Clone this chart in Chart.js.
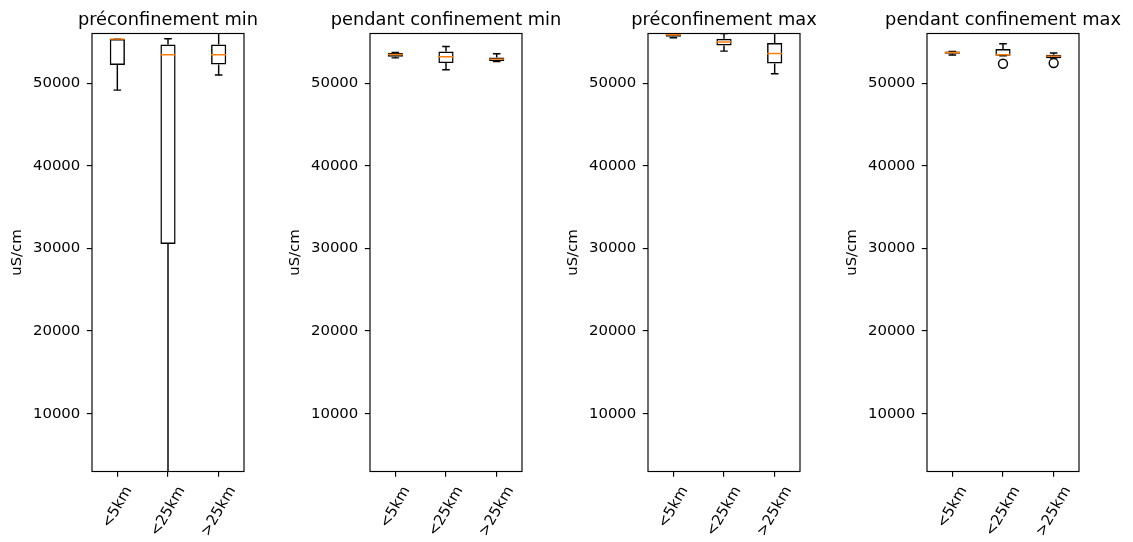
<!DOCTYPE html>
<html>
<head>
<meta charset="utf-8">
<script src="https://cdn.jsdelivr.net/npm/chart.js@4/dist/chart.umd.min.js"></script>
<style>
  html, body { margin: 0; padding: 0; background: #fff; overflow: hidden; }
  #wrap { position: relative; width: 1133px; height: 542px; background: #fff; }
  .panel { position: absolute; top: 0; width: 297px; height: 542px; }
</style>
</head>
<body>
<div id="wrap">
  <div class="panel" style="left:0px"><canvas id="c0" width="297" height="542"></canvas></div>
  <div class="panel" style="left:278px"><canvas id="c1" width="297" height="542"></canvas></div>
  <div class="panel" style="left:556px"><canvas id="c2" width="297" height="542"></canvas></div>
  <div class="panel" style="left:835px"><canvas id="c3" width="297" height="542"></canvas></div>
</div>
<script>
// Distance classes shown on every x axis
const categories = ['<5km', '<25km', '>25km'];
const panelTitles = ['préconfinement min', 'pendant confinement min', 'préconfinement max', 'pendant confinement max'];
const yLabel = 'uS/cm';
const yTicks = [10000, 20000, 30000, 40000, 50000];
const yMin = 3000;
const yMax = 56000;

// Box summaries per class: [low whisker, Q1, median, Q3, high whisker]
const preMin = [
  [49150, 52180, 55320, 55320, 55320],
  [2800, 30540, 53420, 54670, 55360],
  [50970, 52250, 53420, 54670, 56500]
];
const pendantMin = [
  [53050, 53200, 53450, 53650, 53700],
  [51610, 52420, 53180, 53820, 54430],
  [52620, 52660, 52900, 53100, 53550]
];
const preMax = [
  [55480, 55600, 55850, 56100, 56200],
  [53870, 54550, 54960, 55360, 56000],
  [51120, 52370, 53580, 54840, 56400]
];
const pendantMax = [
  [53390, 53545, 53700, 53820, 53820],
  [53300, 53300, 53420, 54110, 54750],
  [53020, 53020, 53265, 53420, 53630]
];

// Flier points per class
const preMinOutliers = [[], [], []];
const pendantMinOutliers = [[], [], []];
const preMaxOutliers = [[], [], []];
const pendantMaxOutliers = [[], [52340], [52420]];

const panelStats = [preMin, pendantMin, preMax, pendantMax];
const panelOutliers = [preMinOutliers, pendantMinOutliers, preMaxOutliers, pendantMaxOutliers];

const FONT = 'DejaVu Sans';
const TICK_SIZE = 14.9;
const TITLE_SIZE = 17.8;
const BOX_FRACTION = 0.3;      // box width in category units
const LINE_W = 1.45;
const MEDIAN_COLOR = '#ff7f0e';

Chart.defaults.font.family = FONT;
Chart.defaults.color = '#000';

// Whiskers, caps, medians, frame, title and rotated category labels
function boxPartsPlugin(stats, title) {
  return {
    id: 'boxParts',
    afterDatasetsDraw(chart) {
      const { ctx, chartArea: a, scales: { x, y } } = chart;
      const unit = x.getPixelForValue(1) - x.getPixelForValue(0);
      const half = unit * BOX_FRACTION / 2;
      const capHalf = half / 2;
      ctx.save();
      ctx.beginPath();
      ctx.rect(a.left, a.top, a.right - a.left, a.bottom - a.top);
      ctx.clip();
      ctx.lineWidth = LINE_W;
      stats.forEach((s, i) => {
        const cx = x.getPixelForValue(i);
        const [lo, q1, med, q3, hi] = s.map(v => y.getPixelForValue(v));
        ctx.strokeStyle = '#000';
        ctx.beginPath();
        ctx.moveTo(cx, q1); ctx.lineTo(cx, lo);
        ctx.moveTo(cx, q3); ctx.lineTo(cx, hi);
        ctx.moveTo(cx - capHalf, lo); ctx.lineTo(cx + capHalf, lo);
        ctx.moveTo(cx - capHalf, hi); ctx.lineTo(cx + capHalf, hi);
        ctx.stroke();
        ctx.strokeStyle = MEDIAN_COLOR;
        ctx.beginPath();
        ctx.moveTo(cx - half, med); ctx.lineTo(cx + half, med);
        ctx.stroke();
      });
      ctx.restore();
    },
    afterDraw(chart) {
      const { ctx, chartArea: a, scales: { x } } = chart;
      ctx.save();
      // full frame around the plotting area
      ctx.strokeStyle = '#000';
      ctx.lineWidth = 1.15;
      ctx.strokeRect(a.left, a.top, a.right - a.left, a.bottom - a.top);
      // panel title centred over the plotting area
      ctx.fillStyle = '#000';
      ctx.font = TITLE_SIZE + 'px "' + FONT + '"';
      ctx.textAlign = 'center';
      ctx.textBaseline = 'alphabetic';
      ctx.fillText(title, (a.left + a.right) / 2, a.top - 8.9);
      // rotated category labels, bounding box centred under each tick
      ctx.font = TICK_SIZE + 'px "' + FONT + '"';
      ctx.textBaseline = 'middle';
      const ang = 60 * Math.PI / 180;
      const h = TICK_SIZE * 1.16;
      categories.forEach((lab, i) => {
        const w = ctx.measureText(lab).width;
        const H = w * Math.sin(ang) + h * Math.cos(ang);
        const cx = x.getPixelForValue(i);
        const cy = a.bottom + 12 + H / 2;
        ctx.save();
        ctx.translate(cx, cy);
        ctx.rotate(-ang);
        ctx.fillText(lab, 0, 0);
        ctx.restore();
      });
      ctx.restore();
    }
  };
}

panelStats.forEach((stats, p) => {
  const outliers = panelOutliers[p];
  const flierPoints = [];
  outliers.forEach((list, i) => list.forEach(v => flierPoints.push({ x: categories[i], y: v })));

  new Chart(document.getElementById('c' + p), {
    type: 'bar',
    data: {
      labels: categories,
      datasets: [
        {
          type: 'bar',
          data: stats.map(s => [s[1], s[3]]),
          backgroundColor: 'rgba(0,0,0,0)',
          borderColor: '#000',
          borderWidth: LINE_W,
          borderSkipped: false,
          barPercentage: BOX_FRACTION,
          categoryPercentage: 1,
          grouped: false
        },
        {
          type: 'scatter',
          data: flierPoints,
          showLine: false,
          pointStyle: 'circle',
          pointRadius: 4.45,
          pointBorderWidth: LINE_W,
          pointBorderColor: '#000',
          pointBackgroundColor: 'rgba(0,0,0,0)'
        }
      ]
    },
    options: {
      responsive: false,
      animation: false,
      events: [],
      layout: { padding: { left: 0, right: 53, top: 33.5, bottom: 0 } },
      plugins: {
        legend: { display: false },
        tooltip: { enabled: false },
        title: { display: false }
      },
      scales: {
        x: {
          type: 'category',
          offset: true,
          grid: { display: true, drawOnChartArea: false, drawTicks: true, tickLength: 5.2, color: '#000', lineWidth: 1.15, offset: false },
          border: { display: false },
          ticks: { display: false },
          afterFit: s => { s.height = 70.5; }
        },
        y: {
          type: 'linear',
          min: yMin,
          max: yMax,
          grid: { display: true, drawOnChartArea: false, drawTicks: true, tickLength: 5.2, color: '#000', lineWidth: 1.15 },
          border: { display: false },
          afterBuildTicks: s => { s.ticks = yTicks.map(v => ({ value: v })); },
          ticks: {
            color: '#000',
            padding: 6.5,
            font: { family: FONT, size: TICK_SIZE },
            callback: v => String(v)
          },
          title: {
            display: true,
            text: yLabel,
            color: '#000',
            font: { family: FONT, size: TICK_SIZE },
            padding: { top: 8, bottom: 0 }
          },
          afterFit: s => { s.width = 92; }
        }
      }
    },
    plugins: [boxPartsPlugin(stats, panelTitles[p])]
  });
});
</script>
</body>
</html>
